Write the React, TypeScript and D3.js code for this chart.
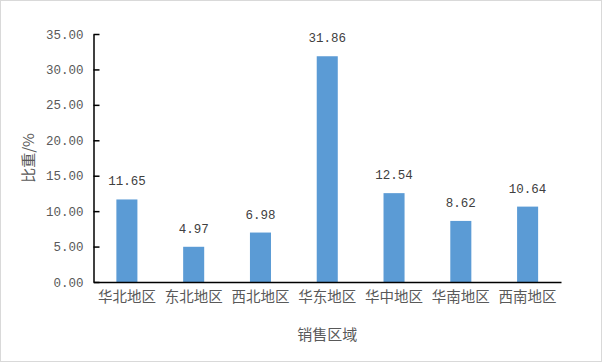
import { useEffect, useRef } from "react";
import * as d3 from "d3";

const regions = ["华北地区", "东北地区", "西北地区", "华东地区", "华中地区", "华南地区", "西南地区"];
const shares = [11.65, 4.97, 6.98, 31.86, 12.54, 8.62, 10.64];
const yTicks = [0, 5, 10, 15, 20, 25, 30, 35];

const WIDTH = 602;
const HEIGHT = 362;
const BAR_COLOR = "#5b9bd5";
const MONO = "'Liberation Mono', 'DejaVu Sans Mono', monospace";
const CJK = "'Noto Sans CJK SC', sans-serif";

export default function App() {
  const svgRef = useRef<SVGSVGElement | null>(null);

  useEffect(() => {
    if (!svgRef.current) return;
    const svg = d3.select(svgRef.current);
    svg.selectAll("*").remove();

    const margin = { top: 34, right: 41, bottom: 80, left: 93.5 };
    const innerW = WIDTH - margin.left - margin.right;
    const innerH = HEIGHT - margin.top - margin.bottom;

    // outer frame
    svg
      .append("rect")
      .attr("x", 0.5)
      .attr("y", 0.5)
      .attr("width", WIDTH - 1)
      .attr("height", HEIGHT - 1)
      .attr("fill", "#fff")
      .attr("stroke", "#d9d9d9");

    const g = svg.append("g").attr("transform", `translate(${margin.left},${margin.top})`);

    const x = d3.scaleBand<string>().domain(regions).range([0, innerW]).paddingInner(0.685).paddingOuter(0.3425);
    const y = d3.scaleLinear().domain([0, 35]).range([innerH, 0]);

    // bars
    g.selectAll("rect.bar")
      .data(shares)
      .join("rect")
      .attr("class", "bar")
      .attr("x", (_d, i) => x(regions[i])!)
      .attr("y", (d) => y(d))
      .attr("width", x.bandwidth())
      .attr("height", (d) => innerH - y(d))
      .attr("fill", BAR_COLOR);

    // value labels
    g.selectAll("text.val")
      .data(shares)
      .join("text")
      .attr("class", "val")
      .attr("x", (_d, i) => x(regions[i])! + x.bandwidth() / 2)
      .attr("y", (d) => y(d) - 14)
      .attr("text-anchor", "middle")
      .attr("font-family", MONO)
      .attr("font-size", 12.5)
      .attr("fill", "#404040")
      .text((d) => d.toFixed(2));

    // y axis
    const yAxis = g
      .append("g")
      .call(
        d3
          .axisRight(y)
          .tickValues(yTicks)
          .tickSize(6)
          .tickSizeOuter(0)
          .tickFormat((d) => Number(d).toFixed(2))
      );
    yAxis.select(".domain").attr("stroke", "#000").attr("stroke-width", 1.5);
    yAxis.selectAll(".tick line").attr("stroke", "#000").attr("stroke-width", 1.5);
    yAxis
      .selectAll(".tick text")
      .attr("x", -10)
      .attr("text-anchor", "end")
      .attr("font-family", MONO)
      .attr("font-size", 12.5)
      .attr("fill", "#595959");

    // x axis
    const xAxis = g
      .append("g")
      .attr("transform", `translate(0,${innerH})`)
      .call(d3.axisBottom(x).tickSize(0).tickPadding(10));
    xAxis.select(".domain").attr("stroke", "#000").attr("stroke-width", 1.5);
    xAxis
      .selectAll(".tick text")
      .attr("font-family", CJK)
      .attr("font-size", 14.5)
      .attr("fill", "#595959");

    // axis titles
    svg
      .append("text")
      .attr("transform", `translate(34,${margin.top + innerH / 2}) rotate(-90)`)
      .attr("text-anchor", "middle")
      .attr("font-family", CJK)
      .attr("font-size", 15)
      .attr("fill", "#595959")
      .text("比重/%");

    svg
      .append("text")
      .attr("x", margin.left + innerW / 2)
      .attr("y", 340)
      .attr("text-anchor", "middle")
      .attr("font-family", CJK)
      .attr("font-size", 15)
      .attr("fill", "#595959")
      .text("销售区域");
  }, []);

  return (
    <div style={{ position: "absolute", left: 0, top: 0 }}>
      <svg ref={svgRef} width={WIDTH} height={HEIGHT} style={{ display: "block" }} />
    </div>
  );
}
